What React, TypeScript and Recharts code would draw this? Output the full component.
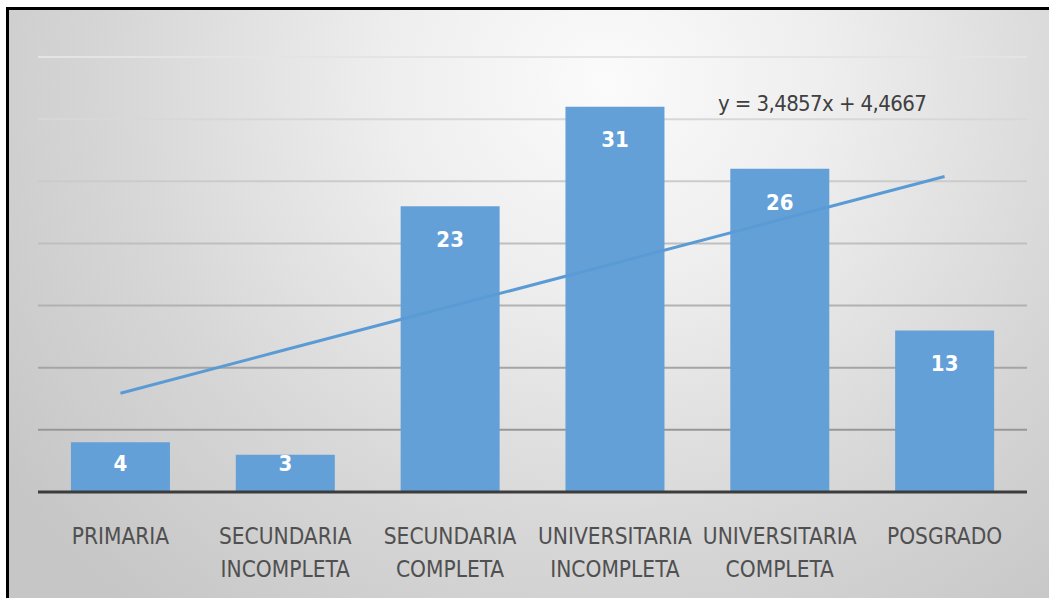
import React from "react";
import {
  Bar,
  CartesianGrid,
  ComposedChart,
  LabelList,
  Line,
  XAxis,
  YAxis,
} from "recharts";

const categories = [
  "PRIMARIA",
  "SECUNDARIA INCOMPLETA",
  "SECUNDARIA COMPLETA",
  "UNIVERSITARIA INCOMPLETA",
  "UNIVERSITARIA COMPLETA",
  "POSGRADO",
];
const counts = [4, 3, 23, 31, 26, 13];
// linear trendline values (y = 3,4857x + 4,4667)
const trend = [7.95, 11.44, 14.92, 18.41, 21.9, 25.38];
const yTicks = [0, 5, 10, 15, 20, 25, 30, 35];
const equation = "y = 3,4857x + 4,4667";

const data = categories.map((name, i) => ({
  name,
  count: counts[i],
  trend: trend[i],
}));

const FONT = '"Liberation Sans Narrow", "DejaVu Sans Condensed", "Liberation Sans", sans-serif';
const BASELINE = 492;

function CategoryTick(props: any) {
  const { x, y, payload } = props;
  const lines = String(payload.value).split(" ");
  return (
    <text
      x={x}
      y={y}
      textAnchor="middle"
      fill="#505050"
      fontSize={22.5}
      fontFamily={FONT}
    >
      {lines.map((ln, i) => (
        <tspan key={i} x={x} dy={i === 0 ? 44 : 33}>
          {ln}
        </tspan>
      ))}
    </text>
  );
}

function BarValue(props: any) {
  const { x, y, width, value } = props;
  const cy = Math.min(y + 33, BASELINE - 29);
  return (
    <text
      x={x + width / 2}
      y={cy}
      dy="0.35em"
      textAnchor="middle"
      fill="#ffffff"
      fontWeight="bold"
      fontSize={22}
      fontFamily={FONT}
    >
      {value}
    </text>
  );
}

export default function App() {
  return (
    <div
      style={{
        position: "absolute",
        left: 0,
        top: 0,
        width: 1049,
        height: 598,
        overflow: "hidden",
        background: "#ffffff",
      }}
    >
      <div
        style={{
          position: "absolute",
          left: 6,
          top: 7,
          width: 1049,
          height: 598,
          border: "3px solid #000",
          background:
            "radial-gradient(ellipse 70% 115% at 57% 12%, #fbfbfb 0%, #eeeeee 30%, #d6d6d6 68%, #c6c6c6 100%)",
        }}
      />
      <div style={{ position: "absolute", left: 0, top: 0 }}>
        <ComposedChart
          width={1049}
          height={598}
          data={data}
          margin={{ top: 57, right: 22, bottom: 0, left: 38 }}
          barCategoryGap="20%"
        >
          <defs>
            <linearGradient
              id="gridFade"
              gradientUnits="userSpaceOnUse"
              x1="0"
              y1="57"
              x2="0"
              y2="492"
            >
              <stop offset="0%" stopColor="#e4e4e4" />
              <stop offset="45%" stopColor="#bdbdbd" />
              <stop offset="100%" stopColor="#8a8a8a" />
            </linearGradient>
          </defs>
          <CartesianGrid
            vertical={false}
            stroke="url(#gridFade)"
            strokeWidth={2}
          />
          <YAxis hide domain={[0, 35]} ticks={yTicks} />
          <XAxis
            dataKey="name"
            height={106}
            tickLine={false}
            axisLine={{ stroke: "#3c3c3c", strokeWidth: 3 }}
            interval={0}
            tick={<CategoryTick />}
          />
          <Bar dataKey="count" fill="#63a0d8" isAnimationActive={false}>
            <LabelList dataKey="count" content={<BarValue />} />
          </Bar>
          <Line
            type="linear"
            dataKey="trend"
            stroke="#5b9bd5"
            strokeWidth={3}
            dot={false}
            activeDot={false}
            isAnimationActive={false}
          />
        </ComposedChart>
      </div>
      <div
        style={{
          position: "absolute",
          left: 718,
          top: 91,
          fontFamily: FONT,
          fontSize: 22,
          letterSpacing: "-0.6px",
          color: "#404040",
          whiteSpace: "nowrap",
          lineHeight: "26px",
        }}
      >
        {equation}
      </div>
    </div>
  );
}
